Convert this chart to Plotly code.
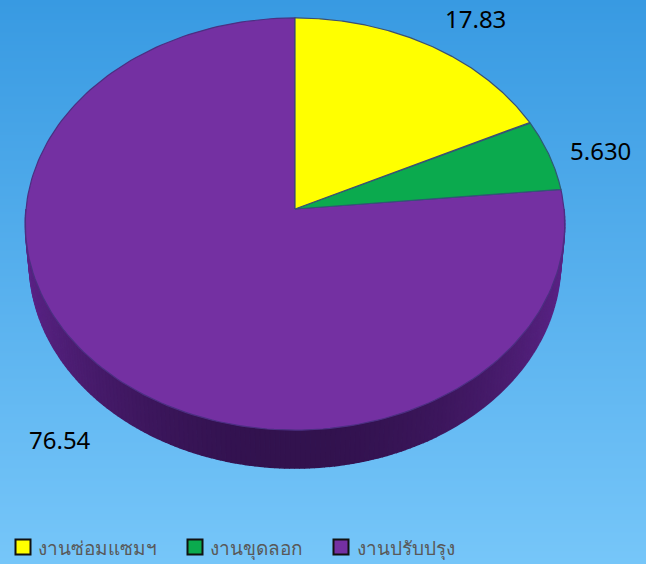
"""Tilted 3D-style pie of work types, built from the slice values."""

import numpy as np
import plotly.graph_objects as go

CATEGORIES = ["งานซ่อมแซมฯ", "งานขุดลอก", "งานปรับปรุง"]
VALUES = [17.83, 5.63, 76.54]
VALUE_LABELS = ["17.83", "5.630", "76.54"]
COLORS = ["#FFFF00", "#0BAA4E", "#7430A2"]
EDGES = ["#3A4F72", "#2F5A72", "#4C2F82"]

WIDTH, HEIGHT = 646, 564
CX, CY = 295, 209
RX, RY, TILT = 269, 205, 0.0728
DEPTH = 38
LABEL_POS = [(475, 18), (600, 150), (60, 439)]
SWATCH_X = [23, 195, 341]
TEXT_X = [38, 210, 357]
LEGEND_Y = 547
BASE_FONT = "Noto Sans, Noto Sans CJK SC"


def project(theta, rx=RX, ry=RY, dy=0.0):
    # theta is clockwise from 12 o'clock, perspective squeezes the far side
    u, v = np.sin(theta), np.cos(theta)
    d = 1 + TILT * v
    return CX + rx * u / d, CY - ry * v / d + dy


def side_color(theta):
    # rim is darkest facing the viewer, lighter towards the left and right
    t = abs(np.sin(theta))
    dark, light = (50, 18, 78), (92, 36, 136)
    rgb = [int(a + (b - a) * t**2) for a, b in zip(dark, light)]
    return f"rgb({rgb[0]},{rgb[1]},{rgb[2]})"


fig = go.Figure()

# sky background
fig.add_trace(
    go.Heatmap(
        z=[[0, 0], [1, 1]],
        x=[0, WIDTH],
        y=[0, HEIGHT],
        zsmooth="best",
        colorscale=[[0, "#389AE2"], [1, "#76C6F9"]],
        showscale=False,
        hoverinfo="skip",
    )
)

# rim, one strip per step along the front half
edges = np.linspace(np.pi / 2, 3 * np.pi / 2, 181)
for a, b in zip(edges[:-1], edges[1:]):
    th = np.linspace(a, b, 3)
    x1, y1 = project(th)
    x2, y2 = project(th[::-1], RX - 4, RY, DEPTH)
    fig.add_trace(
        go.Scatter(
            x=np.r_[x1, x2],
            y=np.r_[y1, y2],
            fill="toself",
            fillcolor=side_color((a + b) / 2),
            mode="lines",
            line=dict(color=side_color((a + b) / 2), width=1.5),
            showlegend=False,
            hoverinfo="skip",
        )
    )

# top face, purple first so the thin edges of the others sit above it
fractions = np.array(VALUES) / sum(VALUES)
stops = np.r_[0, np.cumsum(fractions)] * 2 * np.pi
for i in [2, 1, 0]:
    th = np.linspace(stops[i], stops[i + 1], 200)
    x, y = project(th)
    fig.add_trace(
        go.Scatter(
            x=np.r_[CX, x, CX],
            y=np.r_[CY, y, CY],
            fill="toself",
            fillcolor=COLORS[i],
            mode="lines",
            line=dict(color=EDGES[i], width=1.2),
            showlegend=False,
            hoverinfo="skip",
        )
    )

# legend row
for name, color, sx, tx in zip(CATEGORIES, COLORS, SWATCH_X, TEXT_X):
    fig.add_trace(
        go.Scatter(
            x=[sx],
            y=[LEGEND_Y],
            mode="markers",
            marker=dict(symbol="square", size=15, color=color, line=dict(color="#111111", width=2)),
            showlegend=False,
            hoverinfo="skip",
        )
    )
    fig.add_annotation(
        x=tx,
        y=LEGEND_Y + 1,
        text=name,
        xanchor="left",
        showarrow=False,
        xshift=-2,
        font=dict(family=BASE_FONT, size=19, color="#595959"),
    )

for (x, y), text in zip(LABEL_POS, VALUE_LABELS):
    fig.add_annotation(
        x=x,
        y=y,
        text=text,
        showarrow=False,
        font=dict(family=BASE_FONT, size=24, color="#000000"),
    )

fig.update_layout(
    width=WIDTH,
    height=HEIGHT,
    margin=dict(l=0, r=0, t=0, b=0),
    paper_bgcolor="#76C6F9",
    plot_bgcolor="rgba(0,0,0,0)",
    xaxis=dict(range=[0, WIDTH], visible=False, fixedrange=True),
    yaxis=dict(range=[HEIGHT, 0], visible=False, fixedrange=True),
    showlegend=False,
)

fig.write_html(
    "out.html",
    config=dict(displayModeBar=False),
    post_script="document.body.style.margin = '0'; document.body.style.overflow = 'hidden';",
)
